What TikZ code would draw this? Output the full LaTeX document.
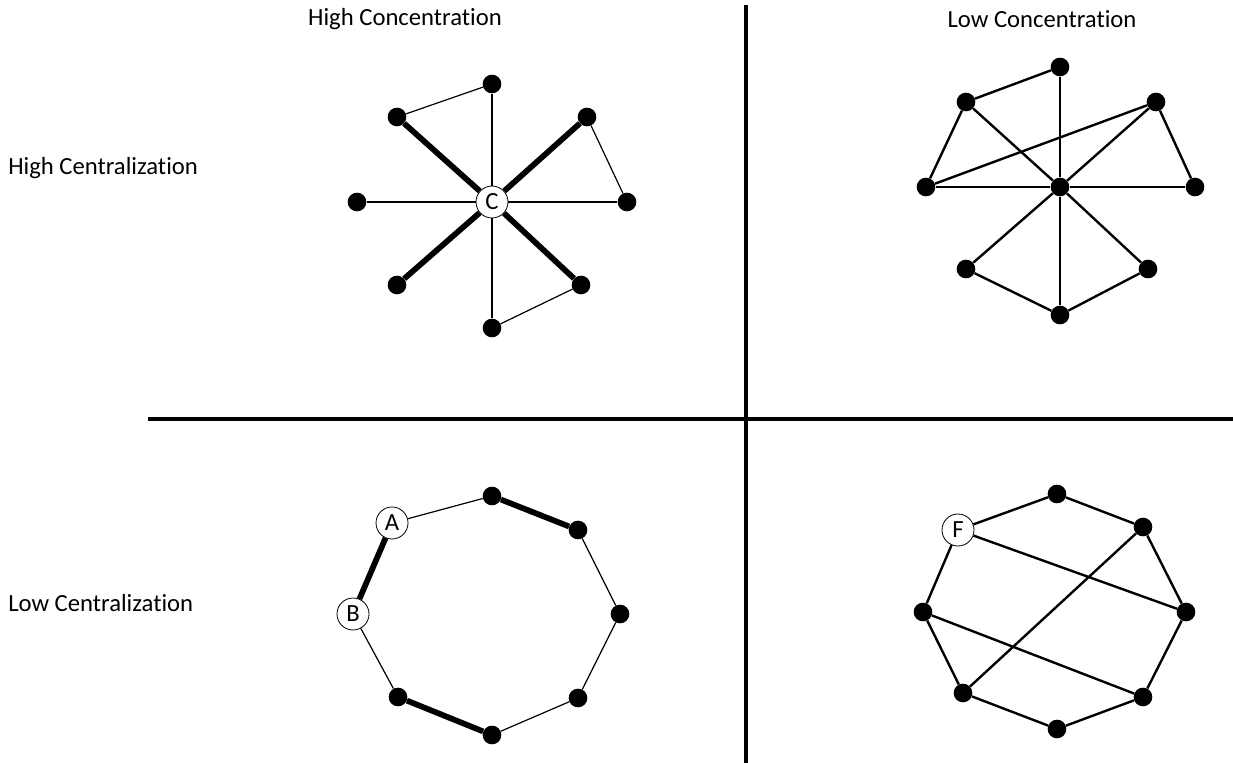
\documentclass[tikz,border=0pt]{standalone}
\usepackage{fontspec}
\setmainfont{Carlito}[Ligatures=NoCommon]
\begin{document}
\begin{tikzpicture}[x=0.75pt, y=-0.75pt, font=\fontsize{18.5}{22}\selectfont,
  dot/.style={circle, fill=black, inner sep=0pt, minimum size=14pt},
  lbl/.style={circle, draw=black, fill=white, line width=0.6pt, inner sep=0pt, minimum size=24pt},
  weaklink/.style={line width=0.9pt},
  link/.style={line width=1.8pt},
  stronglink/.style={line width=4.3pt},
  axis/.style={line width=3pt}]
\useasboundingbox (0,0) rectangle (1233,763);

% assi
\draw[axis] (746,5) -- (746,763);
\draw[axis] (148,419) -- (1233,419);

% titoli
\node[inner sep=0pt] (hcon) at (405,19) {High Concentration};
\node[inner sep=0pt] (lcon) at (1042,19) {Low Concentration};
\node[inner sep=0pt, anchor=west] (hcen) at (8,168) {High Centralization};
\node[inner sep=0pt, anchor=west] (lcen) at (8,603) {Low Centralization};

% alta concentrazione, alta centralizzazione
\node[lbl] (c) at (492,202) {C};
\node[dot] (a1) at (492,84) {};
\node[dot] (a2) at (587,117) {};
\node[dot] (a3) at (627,202) {};
\node[dot] (a4) at (581,285) {};
\node[dot] (a5) at (492,328) {};
\node[dot] (a6) at (397,285) {};
\node[dot] (a7) at (357,202) {};
\node[dot] (a8) at (397,117) {};
\draw[weaklink] (a1) -- (c) (c) -- (a5) (a7) -- (c) (c) -- (a3);
\draw[weaklink] (a8) -- (a1) (a2) -- (a3) (a4) -- (a5);
\draw[stronglink] (a8) -- (c) (a2) -- (c) (a6) -- (c) (a4) -- (c);

% bassa concentrazione, alta centralizzazione
\node[dot] (m) at (1060,187) {};
\node[dot] (b1) at (1060,67) {};
\node[dot] (b2) at (1156,102) {};
\node[dot] (b3) at (1195,187) {};
\node[dot] (b4) at (1148,269) {};
\node[dot] (b5) at (1060,315) {};
\node[dot] (b6) at (966,269) {};
\node[dot] (b7) at (926,187) {};
\node[dot] (b8) at (966,102) {};
\draw[link] (b1) -- (m) (m) -- (b5) (b7) -- (m) (m) -- (b3);
\draw[link] (b8) -- (m) (b2) -- (m) (b6) -- (m) (b4) -- (m);
\draw[link] (b1) -- (b8) -- (b7) -- (b2) -- (b3);
\draw[link] (b6) -- (b5) -- (b4);

% alta concentrazione, bassa centralizzazione
\node[lbl] (na) at (392,523) {A};
\node[lbl] (nb) at (353,614) {B};
\node[dot] (d1) at (492,496) {};
\node[dot] (d2) at (578,530) {};
\node[dot] (d3) at (620,614) {};
\node[dot] (d4) at (578,698) {};
\node[dot] (d5) at (492,735) {};
\node[dot] (d6) at (398,697) {};
\draw[weaklink] (na) -- (d1) (d2) -- (d3) -- (d4) -- (d5) (d6) -- (nb);
\draw[stronglink] (d1) -- (d2) (d5) -- (d6) (nb) -- (na);

% bassa concentrazione, bassa centralizzazione
\node[lbl] (f) at (958,530) {F};
\node[dot] (e1) at (1057,494) {};
\node[dot] (e2) at (1143,527) {};
\node[dot] (e3) at (1186,612) {};
\node[dot] (e4) at (1143,697) {};
\node[dot] (e5) at (1057,729) {};
\node[dot] (e6) at (963,693) {};
\node[dot] (e7) at (923,612) {};
\draw[link] (f) -- (e1) -- (e2) -- (e3) -- (e4) -- (e5) -- (e6) -- (e7) -- (f);
\draw[link] (f) -- (e3) (e7) -- (e4) (e2) -- (e6);

\end{tikzpicture}
\end{document}
